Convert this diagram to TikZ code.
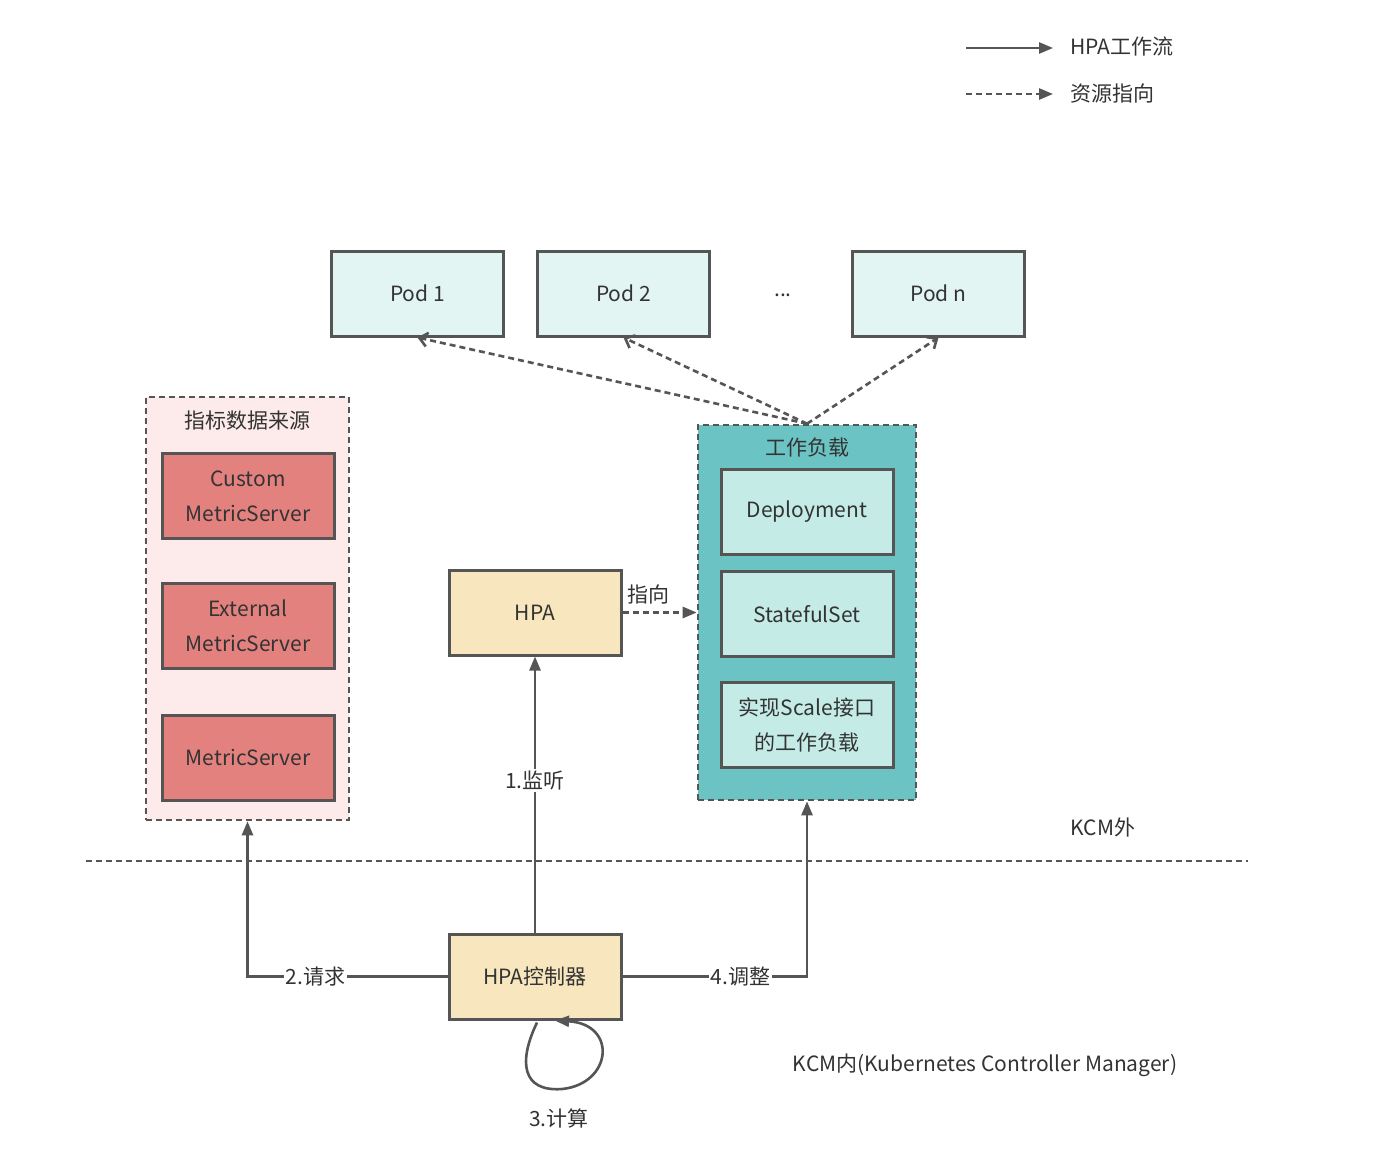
\documentclass[tikz,border=0pt]{standalone}
\usepackage{fontspec}
\setmainfont{Noto Sans CJK SC}
\usepackage{xcolor}
\usetikzlibrary{arrows.meta, positioning, calc}
\definecolor{linegray}{HTML}{555555}
\definecolor{txtgray}{HTML}{333333}
\definecolor{podfill}{HTML}{E3F5F2}
\definecolor{srcfill}{HTML}{FCEBEA}
\definecolor{metricfill}{HTML}{E3817F}
\definecolor{wlfill}{HTML}{6BC4C3}
\definecolor{wlitem}{HTML}{C4EBE5}
\definecolor{hpafill}{HTML}{F7E6BE}

\begin{document}
\begin{tikzpicture}[
  x=0.5pt, y=-0.5pt,
  font=\fontsize{10.5}{17.5}\selectfont,
  text=txtgray,
  >={Triangle[length=7pt,width=5.5pt]},
  box/.style={draw=linegray, line width=1.5pt, minimum width=86pt, minimum height=42.5pt,
              align=center, inner sep=2pt},
  grp/.style={draw=linegray, line width=1.3pt, dash pattern=on 3pt off 2pt},
  flow/.style={draw=linegray, line width=1.3pt},
  res/.style={draw=linegray, line width=1.3pt, dash pattern=on 3pt off 2pt},
  lbl/.style={fill=white, inner sep=1pt},
]
  \fill[white] (0,0) rectangle (1400,1166);
  \useasboundingbox (0,0) rectangle (1400,1166);
  % legend
  \coordinate (l1a) at (966,48);
  \coordinate (l2a) at (966,94);
  \node[right] (lg1) at (1063,47) {HPA工作流};
  \node[right] (lg2) at (1063,94) {资源指向};
  \draw[flow, ->, shorten >=5pt] (l1a) -- (l1a -| lg1.west);
  \draw[res, ->, shorten >=5pt] (l2a) -- (l2a -| lg2.west);
  % pod row
  \node[box, fill=podfill] (pod1) at (417.5,293.5) {Pod 1};
  \node[box, fill=podfill] (pod2) at (623.5,293.5) {Pod 2};
  \node (dots) at (783,295) {...};
  \node[box, fill=podfill] (podn) at (938.5,293.5) {Pod n};
  % metric sources
  \node[grp, fill=srcfill, minimum width=101.5pt, minimum height=211.5pt] (src) at (247.5,608.5) {};
  \node (srctitle) at (247,421) {指标数据来源};
  \node[box, fill=metricfill] (custom) at (248,496) {Custom\\MetricServer};
  \node[box, fill=metricfill] (external) at (248,626) {External\\MetricServer};
  \node[box, fill=metricfill] (metric) at (248,757.5) {MetricServer};
  % workloads
  \node[grp, fill=wlfill, minimum width=109pt, minimum height=187.5pt] (wl) at (807,612.5) {};
  \node (wltitle) at (807,448) {工作负载};
  \node[box, fill=wlitem] (deploy) at (807,512) {Deployment};
  \node[box, fill=wlitem] (sts) at (807,614) {StatefulSet};
  \node[box, fill=wlitem] (scale) at (807,725) {实现Scale接口\\的工作负载};
  % hpa and controller
  \node[box, fill=hpafill] (hpa) at (535,612.5) {HPA};
  \node[box, fill=hpafill] (ctrl) at (535,976.5) {HPA控制器};
  % workload points to pods
  \draw[res, -{Straight Barb[length=4pt,width=7pt]}] (wl.north) -- (pod1.south);
  \draw[res, -{Straight Barb[length=4pt,width=7pt]}] (wl.north) -- (pod2.south);
  \draw[res, -{Straight Barb[length=4pt,width=7pt]}] (wl.north) -- (podn.south);
  \draw[res, ->] (hpa.east) -- node[above, pos=0.35] (lbpoint) {指向} (wl.west);
  % controller flow
  \draw[flow, ->] (ctrl.north) -- node[lbl, pos=0.55] (lbwatch) {1.监听} (hpa.south);
  \draw[flow, ->] (ctrl.west) -| node[lbl, pos=0.33] (lbreq) {2.请求} (src.south);
  \draw[flow, ->] (ctrl.east) -| node[lbl, pos=0.32] (lbadj) {4.调整} (wl.south);
  \draw[flow, ->] ($(ctrl.south)+(2,2)$) .. controls (518,1062) and (522,1092) .. (562,1089)
    .. controls (612,1084) and (618,1024) .. ($(ctrl.south)+(20,0)$);
  \node (lbcalc) at (559,1118) {3.计算};
  % kcm boundary
  \coordinate (kl) at (86,861);
  \coordinate (kr) at (1248,861);
  \draw[res] (kl) -- (kr);
  \node (kout) at (1103,827) {KCM外};
  \node (kin) at (985,1065) {KCM内(Kubernetes Controller Manager)};
\end{tikzpicture}
\end{document}
